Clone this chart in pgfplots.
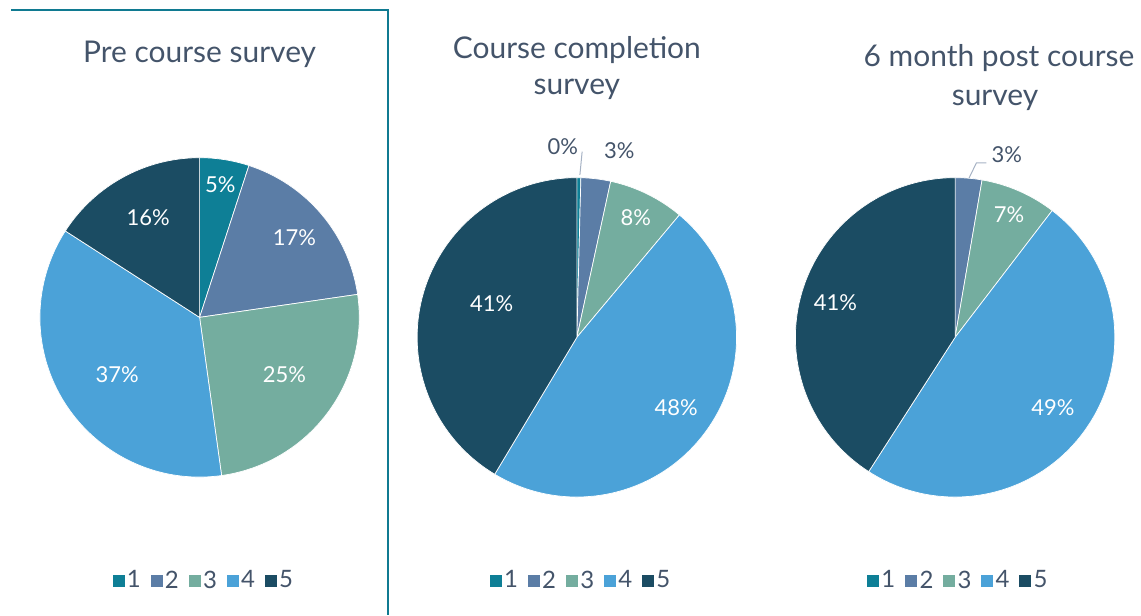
\documentclass[border=0pt]{standalone}
\usepackage{pgfplots}
\pgfplotsset{compat=1.18}
\usepackage{pgfplotstable}
\usepackage{fontspec}
\setmainfont{Lato}

\definecolor{c1}{RGB}{14,127,150}
\definecolor{c2}{RGB}{91,125,166}
\definecolor{c3}{RGB}{116,173,159}
\definecolor{c4}{RGB}{75,162,216}
\definecolor{c5}{RGB}{27,76,99}
\definecolor{txt}{RGB}{68,84,106}
\definecolor{frame}{RGB}{16,122,145}
\definecolor{leader}{RGB}{166,178,196}

% share (%) of each rating; pre = Pre course, comp = Course completion, post = 6 month post course
\pgfplotstableread{
cat pre comp post
1 5.0 0.4 0
2 17.7 3.0 2.7
3 25.1 7.7 7.7
4 36.3 47.5 48.7
5 15.9 41.4 40.9
}\piedata

\newcommand\drawpie[1]{%
  \def\acc{0}%
  \pgfplotsforeachungrouped \i in {0,1,2,3,4}{%
    \pgfplotstablegetelem{\i}{#1}\of\piedata
    \let\v\pgfplotsretval
    \pgfmathsetmacro\a{90-3.6*\acc}%
    \pgfmathsetmacro\acc{\acc+\v}%
    \pgfmathsetmacro\b{90-3.6*\acc}%
    \pgfmathtruncatemacro\n{\i+1}%
    \pgfmathtruncatemacro\nz{\v>0 ? 1 : 0}%
    \ifnum\nz=1
      \edef\cmd{\noexpand\fill[c\n, draw=white, line width=0.35pt] (axis cs:0,0) -- ++(\a:80pt) arc[start angle=\a, end angle=\b, radius=80pt] -- cycle;}%
      \cmd
    \fi
  }%
}

\pgfplotsset{
  pie/.style={
    width=160pt, height=160pt, scale only axis, hide axis,
    xmin=-1, xmax=1, ymin=-1, ymax=1, clip=false, anchor=center,
    legend columns=5,
    legend image code/.code={\fill[##1] (0pt,-2.75pt) rectangle (5.5pt,2.75pt);},
    legend style={draw=none, fill=none, anchor=center, text=txt,
      font=\fontsize{12}{13}\selectfont, inner sep=0pt,
      /tikz/every odd column/.append style={column sep=0pt},
      /tikz/every even column/.append style={column sep=3.8pt},
      nodes={inner xsep=1.2pt}},
  },
}

\tikzset{
  lab/.style={text=white, font=\fontsize{11}{12}\selectfont},
  olab/.style={text=txt, font=\fontsize{11}{12}\selectfont},
  ttl/.style={text=txt, font=\fontsize{15}{18}\selectfont, anchor=base},
}

\begin{document}
\begin{tikzpicture}
% ---------------- Pre course survey ----------------
\begin{axis}[pie, at={(100pt,-159pt)},
  legend style={at={(0.514,-0.325)}}]
  \path (axis cs:-1.25,1.9875) rectangle (axis cs:5.88125,-1.8625);
  \draw[frame, line width=0.7pt] (axis cs:-1.181,1.925) -- (axis cs:1.181,1.925) -- (axis cs:1.181,-1.8625);
  \drawpie{pre}
  \node[ttl] at (axis cs:0,1.594) {Pre course survey};
  \node[lab] at (axis cs:0.13,0.83) {5\%};
  \node[lab] at (axis cs:0.594,0.5) {17\%};
  \node[lab] at (axis cs:0.531,-0.356) {25\%};
  \node[lab] at (axis cs:-0.516,-0.356) {37\%};
  \node[lab] at (axis cs:-0.322,0.625) {16\%};
  \addlegendimage{c1}\addlegendentry{1}
  \addlegendimage{c2}\addlegendentry{2}
  \addlegendimage{c3}\addlegendentry{3}
  \addlegendimage{c4}\addlegendentry{4}
  \addlegendimage{c5}\addlegendentry{5}
\end{axis}
% ---------------- Course completion survey ----------------
\begin{axis}[pie, at={(289pt,-169pt)},
  legend style={at={(0.514,-0.2625)}}]
  \drawpie{comp}
  \node[ttl] at (axis cs:0,1.744) {Course completion};
  \node[ttl] at (axis cs:0,1.519) {survey};
  \draw[leader, line width=0.5pt] (axis cs:0.033,1.1625) -- (axis cs:0.019,1.0169);
  \node[olab] at (axis cs:-0.0875,1.197) {0\%};
  \node[olab] at (axis cs:0.266,1.169) {3\%};
  \node[lab] at (axis cs:0.369,0.747) {8\%};
  \node[lab] at (axis cs:0.622,-0.4375) {48\%};
  \node[lab] at (axis cs:-0.534,0.2125) {41\%};
  \addlegendimage{c1}\addlegendentry{1}
  \addlegendimage{c2}\addlegendentry{2}
  \addlegendimage{c3}\addlegendentry{3}
  \addlegendimage{c4}\addlegendentry{4}
  \addlegendimage{c5}\addlegendentry{5}
\end{axis}
% ---------------- 6 month post course survey ----------------
\begin{axis}[pie, at={(478.5pt,-169pt)},
  legend style={at={(0.511,-0.2625)}}]
  \drawpie{post}
  \node[ttl] at (axis cs:0.275,1.6956) {6 month post course};
  \node[ttl] at (axis cs:0.25,1.45) {survey};
  \draw[leader, line width=0.5pt] (axis cs:0.196,1.092) -- (axis cs:0.133,1.092) -- (axis cs:0.0875,0.998);
  \node[olab] at (axis cs:0.323,1.142) {3\%};
  \node[lab] at (axis cs:0.3375,0.769) {7\%};
  \node[lab] at (axis cs:0.6125,-0.4375) {49\%};
  \node[lab] at (axis cs:-0.75,0.219) {41\%};
  \addlegendimage{c1}\addlegendentry{1}
  \addlegendimage{c2}\addlegendentry{2}
  \addlegendimage{c3}\addlegendentry{3}
  \addlegendimage{c4}\addlegendentry{4}
  \addlegendimage{c5}\addlegendentry{5}
\end{axis}
\end{tikzpicture}
\end{document}
